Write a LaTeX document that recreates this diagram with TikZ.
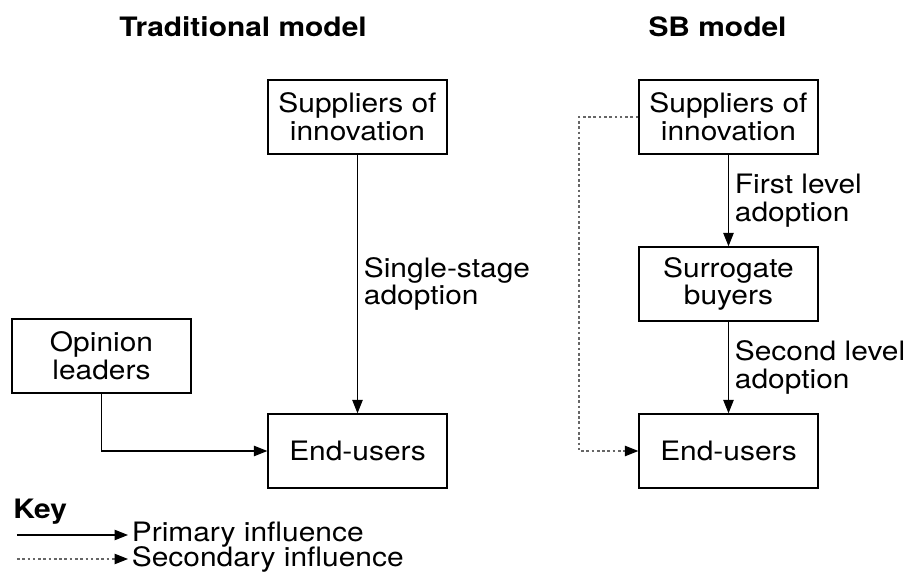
\documentclass[tikz,border=0pt]{standalone}
\usepackage{fontspec}
\setmainfont{TeX Gyre Heros}[FakeStretch=1.12]
\usetikzlibrary{arrows.meta}

\tikzset{
    box/.style={draw, line width=0.8pt, minimum width=3.58cm, minimum height=1.48cm, align=center, inner sep=2pt},
    heading/.style={font=\fontsize{15.2}{16}\selectfont\bfseries, inner sep=0pt},
    primary/.style={line width=0.6pt, -{Triangle[length=0.27cm, width=0.21cm]}},
    secondary/.style={line width=0.6pt, gray!80!black, dash pattern=on 1.5pt off 1.5pt, -{Triangle[length=0.27cm, width=0.21cm, black]}},
}

\begin{document}
\begin{tikzpicture}[font=\fontsize{15.2}{15.7}\selectfont]
        \useasboundingbox (0,0) rectangle (18.24,-11.52);

        % Titles of the two models
        \node[heading, anchor=base] (tradtitle) at (4.86, -0.74) {Traditional model};
        \node[heading, anchor=base] (sbtitle) at (14.35, -0.74) {SB model};

        % Traditional model boxes
        \node[box] (tradsuppliers) at (7.15, -2.34) {Suppliers of\\innovation};
        \node[box] (opinion) at (2.03, -7.12) {Opinion\\leaders};
        \node[box] (tradusers) at (7.15, -9.02) {End-users};

        % SB model boxes
        \node[box] (sbsuppliers) at (14.57, -2.34) {Suppliers of\\innovation};
        \node[box] (surrogate) at (14.57, -5.68) {Surrogate\\buyers};
        \node[box] (sbusers) at (14.57, -9.02) {End-users};

        % Traditional model adoption
        \draw[primary] (tradsuppliers) -- (tradusers) node[midway, right, align=left] {Single-stage\\adoption};
        \draw[primary] (opinion) |- (tradusers);

        % SB model adoption in two levels
        \draw[primary] (sbsuppliers) -- (surrogate) node[midway, right, align=left] {First level\\adoption};
        \draw[primary] (surrogate) -- (sbusers) node[midway, right, align=left] {Second level\\adoption};
        \coordinate (sbbend) at (11.58, -2.34);
        \draw[secondary] (sbsuppliers.west) -- (sbbend) |- (sbusers.west);

        % Key
        \node[heading, anchor=base west] (key) at (0.26, -10.36) {Key};
        \coordinate (primstart) at (0.34, -10.7);
        \node[anchor=west, inner sep=2pt] (primtext) at (2.56, -10.7) {Primary influence};
        \draw[primary] (primstart) -- (primtext.west);
        \coordinate (secstart) at (0.34, -11.18);
        \node[anchor=west, inner sep=2pt] (sectext) at (2.56, -11.18) {Secondary influence};
        \draw[secondary] (secstart) -- (sectext.west);
\end{tikzpicture}
\end{document}
